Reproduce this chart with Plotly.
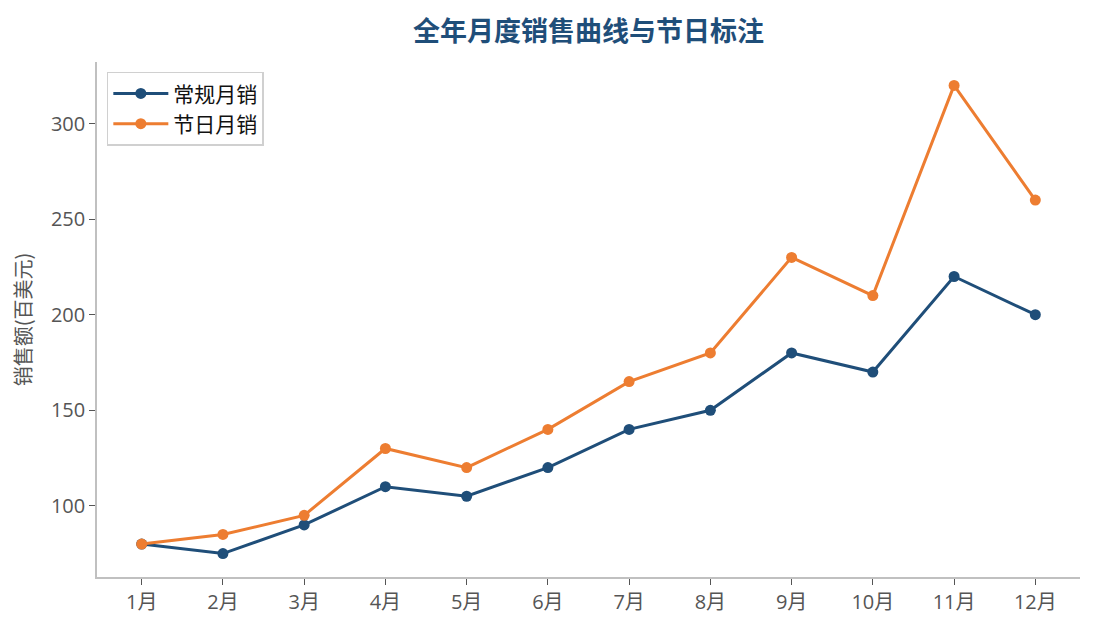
import plotly.graph_objects as go

months = ["1月", "2月", "3月", "4月", "5月", "6月", "7月", "8月", "9月", "10月", "11月", "12月"]
regular_sales = [80, 75, 90, 110, 105, 120, 140, 150, 180, 170, 220, 200]
holiday_sales = [80, 85, 95, 130, 120, 140, 165, 180, 230, 210, 320, 260]
y_ticks = [100, 150, 200, 250, 300]

cjk_font = "Noto Sans CJK SC, sans-serif"
tick_font = "Open Sans, Noto Sans CJK SC, sans-serif"
axis_color = "#c0c0c0"

fig = go.Figure()
fig.add_trace(go.Scatter(
    x=list(range(len(months))), y=regular_sales,
    mode="lines+markers", name="常规月销",
    line=dict(color="#1f4e79", width=3),
    marker=dict(size=11, color="#1f4e79"),
))
fig.add_trace(go.Scatter(
    x=list(range(len(months))), y=holiday_sales,
    mode="lines+markers", name="节日月销",
    line=dict(color="#ed7d31", width=3),
    marker=dict(size=11, color="#ed7d31"),
))

# page body adds 8px, margins compensate for it
fig.update_layout(
    width=1095, height=630,
    margin=dict(l=89, r=23, t=54, b=61),
    paper_bgcolor="white", plot_bgcolor="white",
    font=dict(family=tick_font, size=19, color="#555555"),
    title=dict(
        text="<b>全年月度销售曲线与节日标注</b>",
        x=0.5, xref="paper", xanchor="center", y=0.963, yanchor="middle",
        font=dict(size=27, color="#1f4e79", family=cjk_font),
    ),
    xaxis=dict(
        range=[-0.55, 11.55],
        tickmode="array", tickvals=list(range(len(months))), ticktext=months,
        showgrid=False, zeroline=False,
        showline=True, linecolor=axis_color, linewidth=1.5,
        ticks="outside", ticklen=6, tickcolor="#555555", tickwidth=1,
        tickfont=dict(size=20, color="#555555"),
    ),
    yaxis=dict(
        range=[62.75, 332.25],
        tickmode="array", tickvals=y_ticks,
        showgrid=False, zeroline=False,
        showline=True, linecolor=axis_color, linewidth=1.5,
        ticks="outside", ticklen=6, tickcolor="#555555", tickwidth=1,
        tickfont=dict(size=20, color="#555555"),
        title=dict(text="销售额(百美元)", font=dict(size=20, color="#555555", family=cjk_font),
                   standoff=14),
    ),
    legend=dict(
        x=0.010, y=0.981, xanchor="left", yanchor="top",
        bgcolor="white", bordercolor="#d0d0d0", borderwidth=1.5,
        font=dict(size=21, color="#111111", family=cjk_font),
        itemwidth=55,
    ),
    showlegend=True,
)

fig.write_html("out.html")
